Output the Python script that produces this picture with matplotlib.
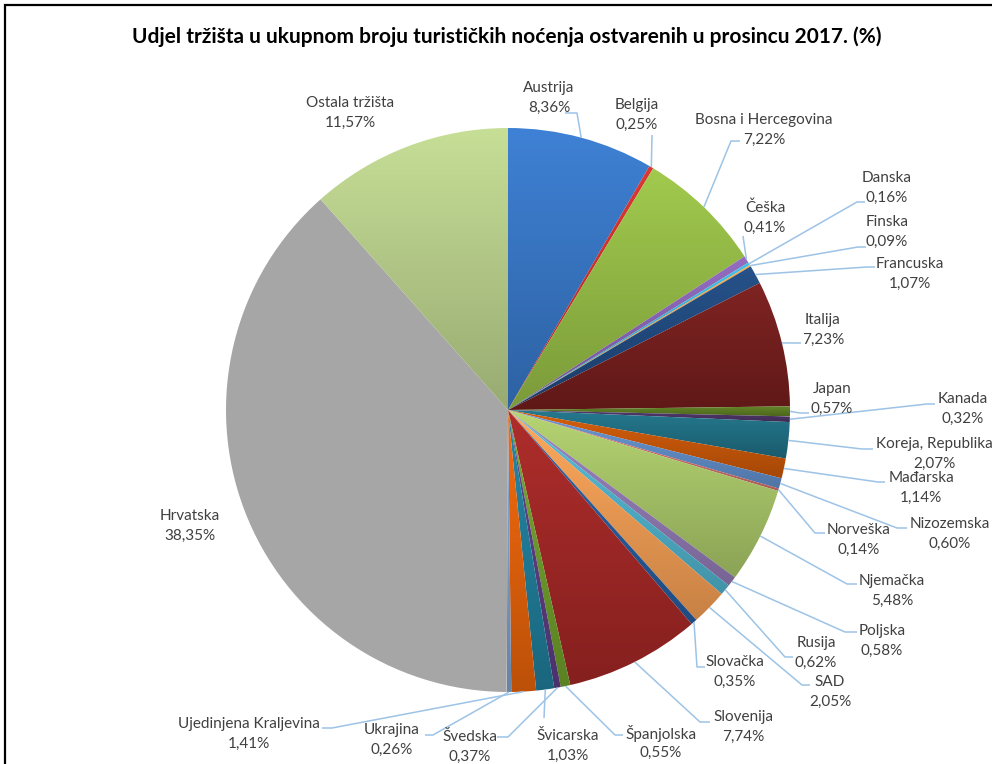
import matplotlib
matplotlib.use("Agg")
import matplotlib.pyplot as plt
import numpy as np
from matplotlib.colors import LinearSegmentedColormap, to_rgb
from matplotlib.patches import Rectangle

# ---------------- data ----------------
categories = ["Austrija", "Belgija", "Bosna i Hercegovina", "Češka", "Danska", "Finska",
              "Francuska", "Italija", "Japan", "Kanada", "Koreja, Republika", "Mađarska",
              "Nizozemska", "Norveška", "Njemačka", "Poljska", "Rusija", "SAD", "Slovačka",
              "Slovenija", "Španjolska", "Švedska", "Švicarska", "Ujedinjena Kraljevina",
              "Ukrajina", "Hrvatska", "Ostala tržišta"]
shares = [8.36, 0.25, 7.22, 0.41, 0.16, 0.09, 1.07, 7.23, 0.57, 0.32, 2.07, 1.14,
          0.60, 0.14, 5.48, 0.58, 0.62, 2.05, 0.35, 7.74, 0.55, 0.37, 1.03, 1.41,
          0.26, 38.35, 11.57]
title = "Udjel tržišta u ukupnom broju turističkih noćenja ostvarenih u prosincu 2017. (%)"

# ---------------- style ----------------
colors = ["#3674C2", "#C9302C", "#92B844", "#8661B0", "#3BAFD4", "#F59A3A",
          "#1F487C", "#721D1C", "#5B7A22", "#4B3366", "#1E6C80", "#C45508",
          "#5F8BC5", "#D06B66", "#A5C266", "#8E78B0", "#4FAFC8", "#EE9A52",
          "#255A9A", "#9E2624", "#6C9A2A", "#5A3C80", "#1F7A96", "#E0600A",
          "#7A9CC8", "#A6A6A6", "#B5CB88"]
flat = [False] * 25 + [True, False]

W, H = 992, 764
def Y(y):
    return H - y

# label layout in image pixel coords: (text_x, text_y, attach_x, attach_y, elbow_x)
layout = [
    (549, 98, 565, 113, 577),
    (637, 115, 652, 135, None),
    (764, 130, 740, 141, 731),
    (765, 218, 743, 236, None),
    (887, 188, 865, 202, 857),
    (887, 232, 866, 247, 858),
    (910, 274, 875, 267, 867),
    (823, 330, 801, 343, 793),
    (832, 399, 809, 413, 800),
    (963, 409, 935, 404, 927),
    (934, 454, 873, 449, 862),
    (921, 488, 885, 482, 878),
    (950, 534, 907, 528, 897),
    (859, 540, 825, 533, 815),
    (892, 591, 857, 584, 847),
    (882, 641, 857, 632, 845),
    (816, 653, 793, 657, 785),
    (830, 692, 810, 685, 802),
    (735, 672, 705, 667, 697),
    (743, 727, 710, 722, 700),
    (661, 743, 623, 735, 615),
    (470, 747, 497, 737, 508),
    (568, 746, 544, 718, None),
    (249, 734, 322, 728, 332),
    (392, 740, 425, 735, 433),
    (190, 526, None, None, None),
    (350, 113, None, None, None),
]

plt.rcParams['font.family'] = ['Lato', 'DejaVu Sans']
fig = plt.figure(figsize=(W / 100, H / 100), dpi=100)
ax = fig.add_axes([0, 0, 1, 1])

cx, cy, R = 508, Y(410), 282
wedges, _ = ax.pie(shares, colors=colors, startangle=90, counterclock=False,
                   center=(cx, cy), radius=R, wedgeprops=dict(linewidth=0))

# gradient fill per wedge
grad = np.linspace(0, 1, 256).reshape(-1, 1)
for w, c, f in zip(wedges, colors, flat):
    if f:
        continue
    base = np.array(to_rgb(c))
    top = np.clip(base * 1.07 + 0.02, 0, 1)
    bot = np.clip(base * 0.84, 0, 1)
    cmap = LinearSegmentedColormap.from_list("g", [bot, top])
    bb = w.get_path().get_extents(w.get_patch_transform())
    w.set_facecolor("none")
    im = ax.imshow(grad, extent=[bb.x0, bb.x1, bb.y0, bb.y1], origin="lower",
                   cmap=cmap, aspect="auto", zorder=1, interpolation="bilinear")
    im.set_clip_path(w)

lead_col = "#9DC3E6"
txt_col = "#404040"
for w, cat, v, lay in zip(wedges, categories, shares, layout):
    tx, ty, axp, ayp, ex = lay
    pct = f"{v:.2f}".replace(".", ",") + "%"
    ax.text(tx, Y(ty - 10), cat, ha="center", va="center", fontsize=11, color=txt_col, zorder=5)
    ax.text(tx, Y(ty + 10), pct, ha="center", va="center", fontsize=11, color=txt_col, zorder=5)
    if axp is None:
        continue
    mid = np.deg2rad((w.theta1 + w.theta2) / 2)
    px, py = cx + R * np.cos(mid), cy + R * np.sin(mid)
    if ex is None:
        xs, ys = [px, axp], [py, Y(ayp)]
    else:
        xs, ys = [px, ex, axp], [py, Y(ayp), Y(ayp)]
    ax.plot(xs, ys, color=lead_col, lw=1.1, zorder=4, solid_capstyle="butt")

ax.text(507, Y(37), title, ha="center", va="center", fontsize=15,
        fontweight="bold", color="#000000")

ax.add_patch(Rectangle((5, Y(1000)), 1100, 995, fill=False, ec="#000000", lw=1.6, zorder=6))

ax.set_xlim(0, W)
ax.set_ylim(0, H)
ax.set_aspect("auto")
ax.axis("off")
fig.savefig("out.png", dpi=100, facecolor="white")
